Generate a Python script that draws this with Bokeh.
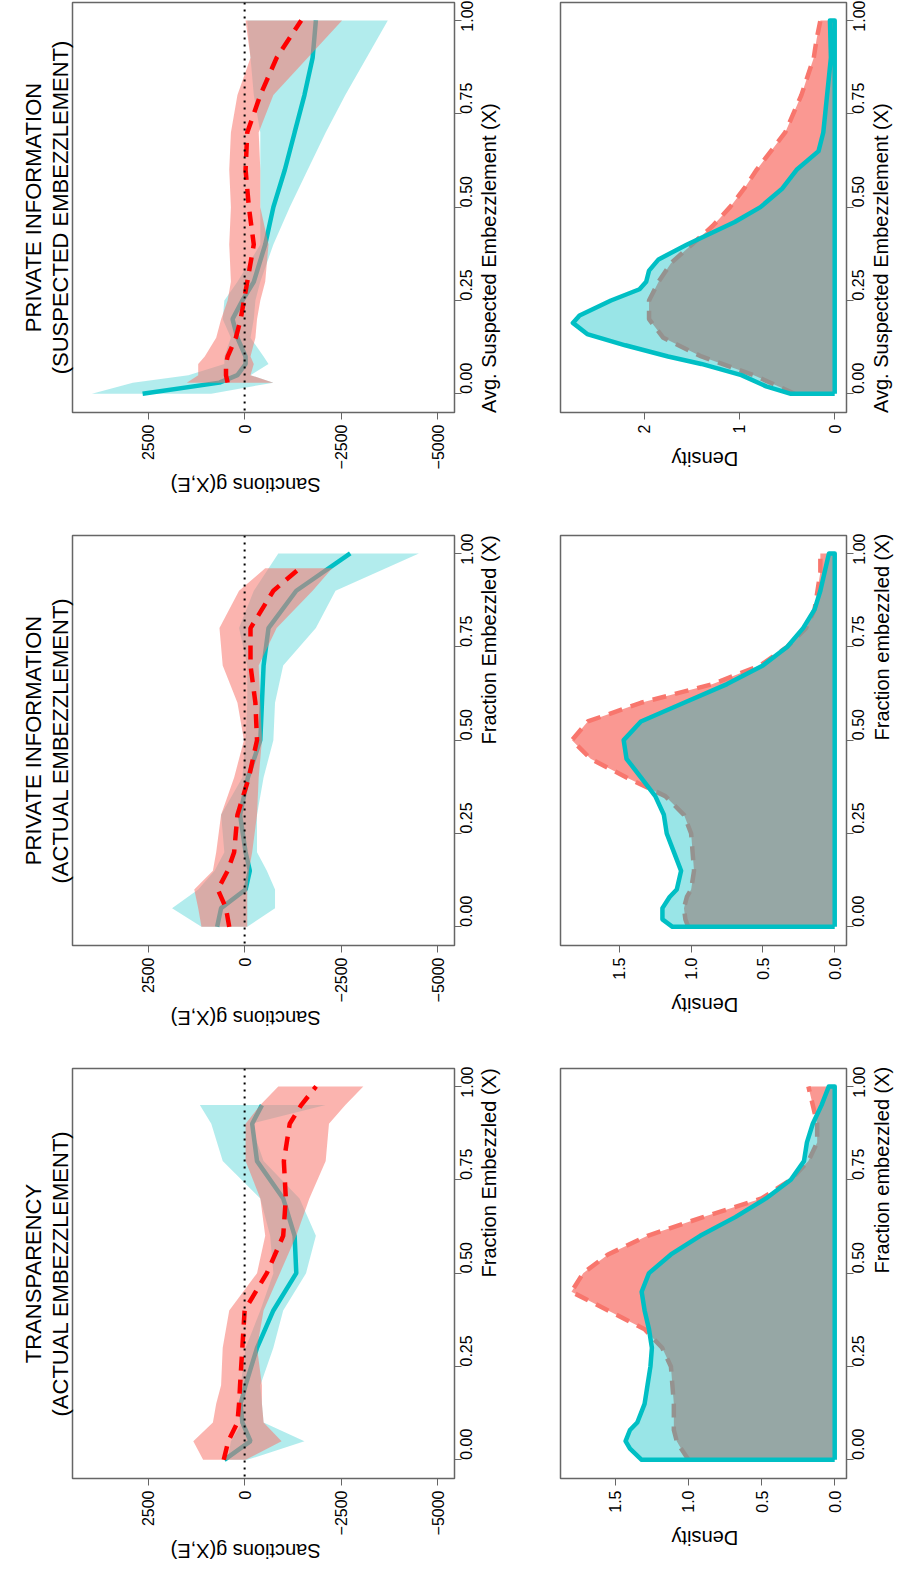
import math
from bokeh.models import Range1d, Span, Title, FixedTicker, LinearAxis
from bokeh.plotting import figure
from bokeh.layouts import column, row
from bokeh.embed import file_html
from bokeh.resources import INLINE

# ---- sanctions panels: transparency (actual embezzlement)
t_f = [0, 0.05, 0.1, 0.15, 0.2, 0.3, 0.4, 0.5, 0.6, 0.7, 0.8, 0.9, 0.95, 1.0]
t_red = [541, 423, 186, 144, 118, 59, 0, -575, -998, -1066, -1015, -1167, -1464, -1850]
t_red_lo = [1074, 1328, 821, 736, 609, 567, 398, -321, -533, -406, -25, -25, -406, -871]
t_red_hi = [-25, -956, -491, -448, -448, -321, -491, -914, -1337, -1675, -2098, -2183, -2606, -3071]
t_teal_f = t_f[:-1]
t_teal = [525, -152, 59, 102, -25, -321, -744, -1337, -1294, -998, -321, -195, -448]
t_teal_lo = [440, 355, 59, 17, 102, -25, -406, -744, -660, -406, 567, 863, 1159]
t_teal_hi = [-68, -1548, -491, -448, -406, -744, -998, -1590, -1844, -1421, -491, -152, -2098]

# ---- private information (actual embezzlement)
m_f = [0, 0.05, 0.1, 0.15, 0.2, 0.3, 0.4, 0.5, 0.6, 0.7, 0.8, 0.9, 1.0]
m_red_f = [0, 0.05, 0.1, 0.15, 0.2, 0.3, 0.4, 0.5, 0.6, 0.7, 0.8, 0.9, 0.96]
m_red = [398, 482, 694, 440, 271, 186, -110, -321, -279, -152, -152, -744, -1421]
m_red_lo = [1117, 1201, 1303, 821, 736, 609, 271, 17, 186, 567, 651, 144, -533]
m_red_hi = [-68, -68, -68, -110, -195, -321, -364, -448, -406, -364, -829, -1760, -2267]
m_teal = [711, 609, -25, -135, -25, 118, -85, -406, -448, -491, -618, -1337, -2733]
m_teal_lo = [1117, 1878, 1201, 778, 525, 609, 59, -25, -68, -68, 144, -237, -871]
m_teal_hi = [-68, -787, -787, -575, -321, -321, -491, -744, -787, -998, -1844, -2352, -4509]

# ---- private information (suspected embezzlement)
s_f = [0, 0.03, 0.05, 0.08, 0.1, 0.15, 0.2, 0.25, 0.3, 0.4, 0.5, 0.6, 0.7, 0.8, 0.9, 1.0]
s_teal = [2640, 651, 186, -25, -25, 186, 313, 59, -237, -533, -744, -1041, -1294, -1548, -1760, -1844]
s_teal_lo = [3951, 2893, 1455, 525, 525, 355, 567, 525, 186, -406, -406, -406, -406, -237, -152, -68]
s_teal_hi = [863, -744, -152, -618, -491, -152, -237, -279, -406, -744, -1167, -1633, -2098, -2606, -3156, -3705]
s_red_f = s_f[1:]
s_red = [440, 482, 482, 440, 228, 102, 17, -68, -237, -110, -25, -68, -406, -829, -1464]
s_red_lo = [1497, 1201, 1201, 1032, 736, 609, 440, 355, 398, 355, 398, 355, 186, -152, -25]
s_red_hi = [-744, -152, -237, -152, -279, -321, -406, -533, -618, -406, -406, -364, -744, -1633, -2521]

# ---- densities
d1_f = [0, 0.03, 0.05, 0.08, 0.1, 0.15, 0.2, 0.25, 0.3, 0.35, 0.4, 0.45, 0.5, 0.55, 0.6, 0.65, 0.7, 0.75, 0.8, 0.85, 0.9, 0.95, 1.0]
d1_teal = [1.32, 1.40, 1.43, 1.40, 1.35, 1.30, 1.28, 1.26, 1.25, 1.27, 1.30, 1.32, 1.27, 1.12, 0.92, 0.68, 0.47, 0.30, 0.21, 0.19, 0.15, 0.09, 0.04]
d1_red = [1.00, 1.05, 1.08, 1.10, 1.10, 1.10, 1.11, 1.12, 1.18, 1.30, 1.55, 1.80, 1.72, 1.55, 1.28, 0.90, 0.50, 0.30, 0.18, 0.12, 0.12, 0.15, 0.18]

d2_f = [0, 0.02, 0.05, 0.08, 0.1, 0.15, 0.2, 0.25, 0.3, 0.35, 0.4, 0.45, 0.5, 0.55, 0.6, 0.65, 0.7, 0.75, 0.8, 0.85, 0.9, 0.95, 1.0]
d2_teal = [1.13, 1.20, 1.20, 1.15, 1.10, 1.07, 1.12, 1.17, 1.19, 1.25, 1.35, 1.45, 1.47, 1.35, 1.05, 0.75, 0.50, 0.33, 0.22, 0.14, 0.10, 0.07, 0.04]
d2_red = [1.02, 1.04, 1.05, 1.03, 1.00, 0.98, 0.99, 1.00, 1.05, 1.18, 1.45, 1.70, 1.83, 1.72, 1.35, 0.85, 0.52, 0.33, 0.20, 0.14, 0.12, 0.10, 0.10]

d3_f = [0, 0.02, 0.05, 0.08, 0.1, 0.13, 0.16, 0.19, 0.21, 0.25, 0.28, 0.3, 0.33, 0.36, 0.4, 0.43, 0.46, 0.5, 0.55, 0.6, 0.65, 0.7, 0.8, 0.9, 1.0]
d3_teal = [0.46, 0.72, 0.98, 1.40, 1.75, 2.20, 2.60, 2.75, 2.68, 2.35, 2.05, 1.98, 1.95, 1.85, 1.55, 1.30, 1.05, 0.78, 0.55, 0.40, 0.17, 0.12, 0.08, 0.04, 0.05]
d3_red_f = [0, 0.05, 0.1, 0.15, 0.2, 0.25, 0.3, 0.35, 0.4, 0.45, 0.5, 0.55, 0.6, 0.7, 0.8, 0.9, 0.95, 1.0]
d3_red = [0.42, 0.85, 1.40, 1.80, 1.95, 1.95, 1.85, 1.72, 1.50, 1.28, 1.10, 0.95, 0.82, 0.52, 0.35, 0.22, 0.19, 0.15]

frac_ticks = [0, 0.25, 0.5, 0.75, 1.0]
sanc_ticks = [2500, 0, -2500, -5000]

TEAL = "#00BFC4"
SALMON = "#F8766D"
FONT = "Liberation Sans"
Y0, Y1 = -0.05, 1.048


def title_axis(p, side, loc, text, angle, standoff):
    # an axis with one tick label and no line, used as a rotated axis title
    ax = LinearAxis(ticker=FixedTicker(ticks=[loc]), major_label_overrides={loc: text},
                    major_label_orientation=angle, major_label_standoff=standoff,
                    axis_line_color=None, major_tick_line_color=None,
                    minor_tick_line_color=None, major_label_text_font=FONT,
                    major_label_text_font_size="20px", major_label_text_color="black")
    p.add_layout(ax, side)


def style(p, ylabel):
    p.toolbar.logo = None
    p.grid.grid_line_color = None
    p.outline_line_color = "#666666"
    p.outline_line_width = 1.5
    p.background_fill_color = "white"
    for ax in (p.xaxis[0], p.yaxis[0]):
        ax.axis_line_color = "#666666"
        ax.major_tick_line_color = "#666666"
        ax.major_tick_out = 7
        ax.major_tick_in = 0
        ax.minor_tick_line_color = None
        ax.major_label_text_font = FONT
        ax.major_label_text_font_size = "16px"
        ax.major_label_text_color = "black"
        ax.major_label_orientation = math.pi / 2
    p.yaxis[0].ticker = FixedTicker(ticks=frac_ticks)
    p.yaxis[0].major_label_overrides = {0: "0.00", 0.25: "0.25", 0.5: "0.50", 0.75: "0.75", 1: "1.00"}
    title_axis(p, "right", (Y0 + Y1) / 2, ylabel, math.pi / 2, 2)


def sanctions_panel(title1, title2, xlab, bottom, f_teal, teal, teal_lo, teal_hi,
                    f_red, red, red_lo, red_hi):
    p = figure(frame_width=382, frame_height=410, output_backend="svg", toolbar_location=None,
               x_range=Range1d(4454, -5431), y_range=Range1d(Y0, Y1),
               y_axis_location="right", min_border_left=72, min_border_right=60,
               min_border_top=2, min_border_bottom=bottom)
    p.harea(y=f_teal, x1=teal_lo, x2=teal_hi, fill_color=TEAL, fill_alpha=0.3)
    p.line(teal, f_teal, line_color=TEAL, line_width=4.5)
    p.harea(y=f_red, x1=red_lo, x2=red_hi, fill_color=SALMON, fill_alpha=0.55)
    p.line(red, f_red, line_color="#FF0000", line_width=4.5, line_dash="14 9")
    p.add_layout(Span(location=0, dimension="height", line_color="black",
                      line_width=2, line_dash="2 5"))
    style(p, xlab)
    p.xaxis[0].ticker = FixedTicker(ticks=sanc_ticks)
    p.xaxis[0].major_label_overrides = {2500: "2500", 0: "0", -2500: "\u22122500", -5000: "\u22125000"}
    upp = (4454 + 5431) / 382.0
    # upside-down title starts at its tick: put that tick half a title left of 0
    title_axis(p, "below", 74 * upp, "Sanctions g(X,E)", math.pi, 6)
    for t in (title2, title1):
        p.add_layout(Title(text=t, align="center", text_font=FONT, text_font_size="22px",
                           text_font_style="normal", text_color="black", standoff=0), "left")
    return p


def density_panel(xlab, bottom, xmax, dticks, dlabels, f_teal, teal, f_red, red):
    p = figure(frame_width=286, frame_height=410, output_backend="svg", toolbar_location=None,
               x_range=Range1d(xmax, -xmax * 0.043), y_range=Range1d(Y0, Y1),
               y_axis_location="right", min_border_left=46, min_border_right=48,
               min_border_top=2, min_border_bottom=bottom)
    p.harea(y=f_red, x1=[0] * len(red), x2=red, fill_color=SALMON, fill_alpha=0.75)
    p.line(red, f_red, line_color=SALMON, line_width=4.5, line_dash="14 9")
    p.harea(y=f_teal, x1=[0] * len(teal), x2=teal, fill_color=TEAL, fill_alpha=0.4)
    p.line([0] + teal + [0, 0], [0] + f_teal + [1, 0], line_color=TEAL, line_width=4.5,
           line_join="round")
    style(p, xlab)
    p.xaxis[0].ticker = FixedTicker(ticks=dticks)
    p.xaxis[0].major_label_overrides = dict(zip(dticks, dlabels))
    upp = xmax * 1.043 / 286.0
    title_axis(p, "below", xmax * 0.957 / 2 + 32 * upp, "Density", math.pi, 16)
    return p


p_s3 = sanctions_panel("PRIVATE INFORMATION", "(SUSPECTED EMBEZZLEMENT)",
                       "Avg. Suspected Embezzlement (X)", 121,
                       s_f, s_teal, s_teal_lo, s_teal_hi, s_red_f, s_red, s_red_lo, s_red_hi)
p_d3 = density_panel("Avg. Suspected Embezzlement (X)", 121, 2.88, [2, 1, 0], ["2", "1", "0"],
                     d3_f, d3_teal, d3_red_f, d3_red)
p_s2 = sanctions_panel("PRIVATE INFORMATION", "(ACTUAL EMBEZZLEMENT)",
                       "Fraction Embezzled (X)", 121,
                       m_f, m_teal, m_teal_lo, m_teal_hi, m_red_f, m_red, m_red_lo, m_red_hi)
p_d2 = density_panel("Fraction embezzled (X)", 121, 1.91, [1.5, 1.0, 0.5, 0],
                     ["1.5", "1.0", "0.5", "0.0"], d2_f, d2_teal, d2_f, d2_red)
p_s1 = sanctions_panel("TRANSPARENCY", "(ACTUAL EMBEZZLEMENT)",
                       "Fraction Embezzled (X)", 80,
                       t_teal_f, t_teal, t_teal_lo, t_teal_hi, t_f, t_red, t_red_lo, t_red_hi)
p_d1 = density_panel("Fraction embezzled (X)", 80, 1.875, [1.5, 1.0, 0.5, 0],
                     ["1.5", "1.0", "0.5", "0.0"], d1_f, d1_teal, d1_f, d1_red)

p = column(row(p_s3, p_d3), row(p_s2, p_d2), row(p_s1, p_d1))
open("out.html", "w").write(file_html(p, INLINE))
